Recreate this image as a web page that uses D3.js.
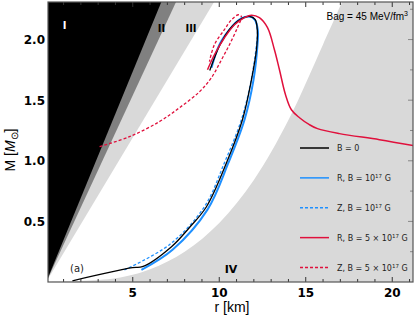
<!DOCTYPE html>
<html>
<head>
<meta charset="utf-8">
<script src="https://cdn.jsdelivr.net/npm/d3@7"></script>
<style>
  body { margin: 0; background: #fff; }
  svg { display: block; }
  .tick-lbl { font-family: 'DejaVu Sans', sans-serif; font-weight: bold; font-size: 12px; }
  .legend text { font-family: 'DejaVu Sans', sans-serif; font-size: 8px; fill: #222; }
</style>
</head>
<body>
<script>
// mass-radius curves, [r km, M Msun]
const curveB0 = [
  [1.51, 0.01], [4.98, 0.118], [5.56, 0.126], [7.24, 0.291], [8.28, 0.45], [9.26, 0.621],
  [10.42, 0.984], [11.34, 1.339], [11.86, 1.668], [12.15, 1.916], [12.2, 2.08],
  [12.08, 2.165], [11.8, 2.19], [11.2, 2.165], [10.6, 2.085], [10.05, 1.96], [9.45, 1.745]
]
const curveR1 = [
  [5.5, 0.1], [7.3, 0.266], [9.32, 0.597], [10.53, 0.984], [11.46, 1.339], [11.98, 1.668],
  [12.21, 1.957], [12.23, 2.08], [12.05, 2.165], [11.75, 2.19], [11.16, 2.165],
  [10.59, 2.082], [10.01, 1.958], [9.55, 1.768]
]
const curveZ1 = [
  [4.52, 0.1], [7.12, 0.308], [9.14, 0.621], [10.3, 0.984], [11.28, 1.339], [11.85, 1.668],
  [12.15, 1.957], [12.2, 2.08], [12.05, 2.165], [11.75, 2.19]
]
const curveR5 = [
  [9.32, 1.751], [9.72, 1.875], [10.3, 2.015], [10.88, 2.123], [11.46, 2.181], [11.86, 2.201],
  [12.32, 2.181], [12.79, 2.098], [13.19, 1.916], [13.48, 1.751], [13.83, 1.545],
  [14.17, 1.421], [14.64, 1.355], [15.21, 1.298], [15.68, 1.265], [16.95, 1.224],
  [19.26, 1.174], [21.2, 1.125]
]
const curveZ5 = [
  [3.08, 1.117], [4.81, 1.199], [6.54, 1.323], [7.7, 1.438], [8.86, 1.57], [9.55, 1.686],
  [10.13, 1.834], [10.59, 1.958], [11.05, 2.098], [11.28, 2.189], [11.11, 2.205],
  [10.71, 2.164], [10.3, 2.082], [9.72, 1.958], [9.43, 1.818]
]

// excluded regions
const regionI = [[0, 0], [6.65, 2.31]]
const regionII = [[0, 0], [7.5, 2.31]]
const regionIII = [[0, 0], [9.7, 2.31]]
const regionIV = [
  [0, 0], [4, 0.031], [6, 0.105], [8, 0.249], [10, 0.487], [12, 0.842], [14, 1.336],
  [16, 1.96], [17.1, 2.31]
]

const xTicks = [5, 10, 15, 20]
const yTicks = [0.5, 1.0, 1.5, 2.0]

const legendItems = [
  { name: 'B = 0', exp: null, color: '#000', dash: null },
  { name: 'R, B = 10', exp: '17', color: '#1e90ff', dash: null },
  { name: 'Z, B = 10', exp: '17', color: '#1e90ff', dash: '3,2' },
  { name: 'R, B = 5 \u00d7 10', exp: '17', color: '#e0103c', dash: null },
  { name: 'Z, B = 5 \u00d7 10', exp: '17', color: '#e0103c', dash: '3,2' }
]

const W = 415, H = 324
const plot = { left: 48, right: 413, top: 2, bottom: 282 }

const x = d3.scaleLinear().domain([0.1, 21.2]).range([plot.left, plot.right])
const y = d3.scaleLinear().domain([0, 2.31]).range([plot.bottom, plot.top])

const svg = d3.select('body').append('svg').attr('width', W).attr('height', H)

svg.append('clipPath').attr('id', 'clip')
  .append('rect')
  .attr('x', plot.left).attr('y', plot.top)
  .attr('width', plot.right - plot.left).attr('height', plot.bottom - plot.top)

const g = svg.append('g').attr('clip-path', 'url(#clip)')

// region polygons: area left of a line through origin
const leftPoly = pts => {
  const top = pts[pts.length - 1]
  return [[x.domain()[0] - 1, 0], ...pts, [x.domain()[0] - 1, top[1] + 0.1]]
}
const poly = d3.line().x(d => x(d[0])).y(d => y(d[1]))

g.append('path').attr('d', poly(leftPoly(regionIII)) + 'Z').attr('fill', '#d9d9d9')
g.append('path').attr('d', poly(leftPoly(regionII)) + 'Z').attr('fill', '#808080')
g.append('path').attr('d', poly(leftPoly(regionI)) + 'Z').attr('fill', '#000')

g.append('path')
  .attr('d', d3.line().curve(d3.curveCatmullRom).x(d => x(d[0])).y(d => y(d[1]))(regionIV) +
    'L' + x(22) + ',' + y(2.4) + 'L' + x(22) + ',' + y(-0.1) + 'L' + x(0) + ',' + y(-0.1) + 'Z')
  .attr('fill', '#d9d9d9')

// curves
const line = d3.line()
  .curve(d3.curveCatmullRom.alpha(0.5))
  .x(d => x(d[0]))
  .y(d => y(d[1]))

const series = [
  { data: curveZ5, color: '#e0103c', dash: '3,2', w: 1.3 },
  { data: curveZ1, color: '#1e90ff', dash: '3,2', w: 1.3 },
  { data: curveR1, color: '#1e90ff', dash: null, w: 2 },
  { data: curveB0, color: '#000', dash: null, w: 1.3 },
  { data: curveR5, color: '#e0103c', dash: null, w: 1.5 }
]

g.selectAll('path.curve')
  .data(series)
  .enter()
  .append('path')
  .attr('class', 'curve')
  .attr('d', d => line(d.data))
  .attr('fill', 'none')
  .attr('stroke', d => d.color)
  .attr('stroke-width', d => d.w)
  .attr('stroke-dasharray', d => d.dash)

// region labels
const lbl = svg.append('g')
  .style('font-family', "'DejaVu Sans', sans-serif")
  .style('font-weight', 'bold')
  .style('font-size', '10px')
lbl.append('text').attr('x', 64.5).attr('y', 29).attr('text-anchor', 'middle').attr('fill', '#fff').text('I')
lbl.append('text').attr('x', 161.5).attr('y', 32).attr('text-anchor', 'middle').text('II')
lbl.append('text').attr('x', 191).attr('y', 32).attr('text-anchor', 'middle').text('III')
lbl.append('text').attr('x', 231).attr('y', 273).attr('text-anchor', 'middle').style('font-size', '11px').text('IV')

svg.append('text')
  .attr('x', 77).attr('y', 272)
  .attr('text-anchor', 'middle')
  .style('font-family', "'DejaVu Sans', sans-serif")
  .style('font-size', '10px')
  .attr('fill', '#222')
  .text('(a)')

const bag = svg.append('text')
  .attr('x', 408).attr('y', 20)
  .attr('text-anchor', 'end')
  .style('font-family', "'Liberation Sans', Arial, sans-serif")
  .style('font-size', '10px')
bag.append('tspan').text('Bag = 45 MeV/fm')
bag.append('tspan').attr('dy', -4).style('font-size', '7px').text('3')

// frame and ticks
const frame = svg.append('g')
const minorX = d3.range(1, 22)
const minorY = d3.range(0.25, 2.31, 0.25)

frame.selectAll('line.bx').data(minorX).enter().append('line')
  .attr('x1', d => x(d)).attr('x2', d => x(d))
  .attr('y1', plot.bottom).attr('y2', d => plot.bottom - (d % 5 === 0 ? 5 : 3))
  .attr('stroke', '#333')
frame.selectAll('line.tx').data(minorX).enter().append('line')
  .attr('x1', d => x(d)).attr('x2', d => x(d))
  .attr('y1', plot.top).attr('y2', d => plot.top + (d % 5 === 0 ? 5 : 3))
  .attr('stroke', '#333')
frame.selectAll('line.ry').data(minorY).enter().append('line')
  .attr('y1', d => y(d)).attr('y2', d => y(d))
  .attr('x1', plot.right).attr('x2', (d, i) => plot.right - (i % 2 === 1 ? 5 : 3))
  .attr('stroke', '#888')

frame.append('rect')
  .attr('x', plot.left).attr('y', plot.top)
  .attr('width', plot.right - plot.left).attr('height', plot.bottom - plot.top)
  .attr('fill', 'none').attr('stroke', '#555').attr('stroke-width', 1.2)

svg.selectAll('text.xl').data(xTicks).enter().append('text')
  .attr('class', 'tick-lbl')
  .attr('x', d => x(d)).attr('y', 297)
  .attr('text-anchor', 'middle')
  .text(d => d)

svg.selectAll('text.yl').data(yTicks).enter().append('text')
  .attr('class', 'tick-lbl')
  .attr('x', 45).attr('y', d => y(d) + 4.5)
  .attr('text-anchor', 'end')
  .text(d3.format('.1f'))

// axis titles
svg.append('text')
  .attr('x', 232).attr('y', 312)
  .attr('text-anchor', 'middle')
  .style('font-family', "'Liberation Sans', Arial, sans-serif")
  .style('font-size', '14px')
  .text('r [km]')

const yt = svg.append('text')
  .attr('transform', 'translate(15,150) rotate(-90)')
  .attr('text-anchor', 'middle')
  .style('font-family', "'Liberation Sans', Arial, sans-serif")
  .style('font-size', '14px')
yt.append('tspan').text('M [')
yt.append('tspan').style('font-style', 'italic').text('M')
yt.append('tspan').attr('dy', 3).style('font-size', '10px').text('\u2299')
yt.append('tspan').attr('dy', -3).text(']')

// legend
const legend = svg.append('g').attr('class', 'legend')
const ly = d3.scalePoint().domain(legendItems.map(d => d.name + d.color + d.dash)).range([148, 267.5])

const items = legend.selectAll('g').data(legendItems).enter().append('g')
  .attr('transform', d => `translate(0, ${ly(d.name + d.color + d.dash)})`)
items.append('line')
  .attr('x1', 300).attr('x2', 329)
  .attr('stroke', d => d.color).attr('stroke-width', 1.5)
  .attr('stroke-dasharray', d => d.dash)
const lt = items.append('text').attr('x', 337).attr('y', 3)
lt.append('tspan').text(d => d.name)
lt.filter(d => d.exp).append('tspan').attr('dy', -3).style('font-size', '5.5px').text(d => d.exp)
lt.filter(d => d.exp).append('tspan').attr('dy', 3).text(' G')
</script>
</body>
</html>
